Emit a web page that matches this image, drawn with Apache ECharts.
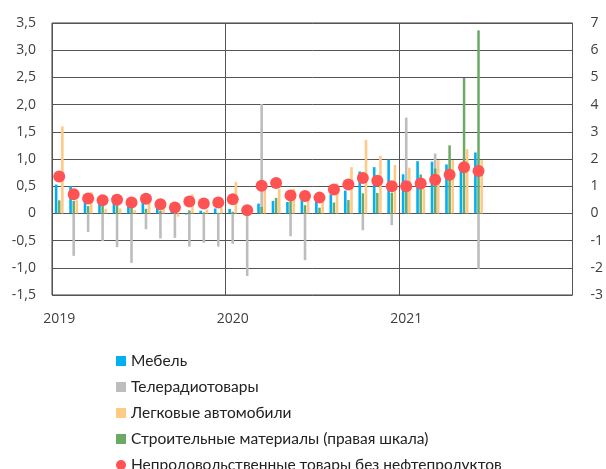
<!DOCTYPE html>
<html><head><meta charset="utf-8">
<script src="https://cdn.jsdelivr.net/npm/echarts@6/dist/echarts.min.js"></script>
<style>html,body{margin:0;padding:0;background:#fff}#c{width:606px;height:469px}</style>
</head><body><div id="c"></div>
<script>
const months = [];
for (let y = 2019; y <= 2021; y++) for (let m = 1; m <= 12; m++) months.push(y + '-' + String(m).padStart(2, '0'));

const furniture = [0.53,0.50,0.28,0.20,0.33,0.17,0.30,0.11,0.06,-0.02,0.05,0.09,
  0.08,0.01,0.18,0.23,0.21,0.25,0.25,0.35,0.42,0.77,0.85,0.99,
  0.72,0.96,0.95,0.90,0.90,1.12];
const tvRadio = [0,-0.78,-0.34,-0.51,-0.62,-0.91,-0.29,-0.46,-0.45,-0.61,-0.54,-0.61,
  -0.56,-1.15,2.01,0,-0.42,-0.86,0,0,0,-0.31,0,-0.215,
  1.76,0,1.10,0,0,-1.02];
const cars = [1.60,0.24,0.39,0.08,0.09,0.06,0.25,0.09,-0.06,0.35,0.07,0.11,
  0.58,0.02,0.44,0.45,0.45,0.30,0.21,0.55,0.85,1.35,1.06,0.89,
  0.84,0.45,0.98,0.98,1.18,0.98];
const building = [0.48,0.46,0.27,0.28,0.30,0.23,0.17,0.10,0.04,0.11,0.04,0.02,
  0.06,0.02,0.24,0.57,0.45,0.30,0.21,0.40,0.49,0.74,0.75,0.76,
  0.86,1.43,1.65,2.50,4.98,6.73];
const nonFood = [0.68,0.35,0.275,0.24,0.25,0.20,0.27,0.17,0.11,0.22,0.18,0.20,
  0.26,0.06,0.51,0.56,0.33,0.32,0.29,0.44,0.53,0.65,0.60,0.50,
  0.50,0.55,0.62,0.71,0.85,0.78];

const names = ['Мебель','Телерадиотовары','Легковые автомобили','Строительные материалы (правая шкала)','Непродовольственные товары без нефтепродуктов'];
const colors = ['#00B0F0','#BDBDBD','#FFCA85','#6AAA64','#FF5252'];

function pad(a){ const r = a.slice(); while (r.length < months.length) r.push(null); return r; }
function fmtLeft(v){ if (Math.abs(v) < 1e-9) return '0'; return v.toFixed(1).replace('.', ','); }

const chart = echarts.init(document.getElementById('c'), null, {renderer:'canvas'});
const axisFont = {fontFamily:'Open Sans', fontSize:14, color:'#404040'};
chart.setOption({
  animation:false,
  grid:{left:52, right:31, top:23, bottom:174, show:true, borderColor:'#404040', borderWidth:1},
  legend:{
    orient:'vertical', left:116, top:353, height:200, padding:0, itemWidth:10, itemHeight:10, itemGap:10,
    textStyle:{fontFamily:'Lato', fontSize:15.5, color:'#222', lineHeight:16},
    data:[
      {name:names[0], icon:'rect'},{name:names[1], icon:'rect'},{name:names[2], icon:'rect'},
      {name:names[3], icon:'rect'},{name:names[4], icon:'circle'}
    ]
  },
  xAxis:[{
    type:'category', data:months, boundaryGap:true,
    axisLine:{show:false}, axisTick:{show:false},
    axisLabel:Object.assign({interval:11, formatter:(v)=>v.slice(0,4), margin:17}, axisFont),
    splitLine:{show:true, interval:11, lineStyle:{color:'#555', width:1}}
  },{
    type:'category', data:months, boundaryGap:true, show:false
  }],
  yAxis:[{
    type:'value', min:-1.5, max:3.5, interval:0.5,
    axisLine:{show:false}, axisTick:{show:false},
    axisLabel:Object.assign({formatter:fmtLeft, margin:16}, axisFont),
    splitLine:{show:true, lineStyle:{color:'#555', width:1}}
  },{
    type:'value', min:-3, max:7, interval:1, position:'right',
    axisLine:{show:false}, axisTick:{show:false}, splitLine:{show:false},
    axisLabel:Object.assign({margin:18}, axisFont)
  }],
  series:[
    {name:names[0], type:'bar', data:pad(furniture), itemStyle:{color:colors[0]}, barWidth:2.6, barGap:'20%'},
    {name:names[1], type:'bar', data:pad(tvRadio), itemStyle:{color:colors[1]}, barWidth:2.6, barGap:'20%'},
    {name:names[2], type:'bar', data:pad(cars), itemStyle:{color:colors[2]}, barWidth:2.6, barGap:'20%'},
    {name:names[3], type:'bar', data:pad(building), xAxisIndex:1, yAxisIndex:1, itemStyle:{color:colors[3]}, barWidth:2.5, z:3},
    {name:names[4], type:'scatter', data:pad(nonFood), symbolSize:12, itemStyle:{color:colors[4], opacity:1}, z:5}
  ]
});
</script></body></html>
